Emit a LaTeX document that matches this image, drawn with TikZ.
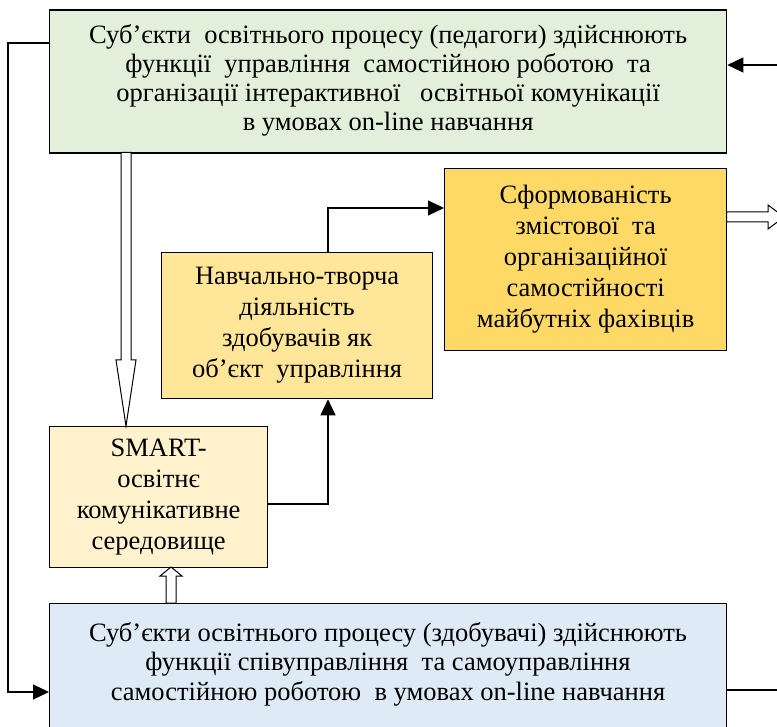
\documentclass[tikz,border=0pt]{standalone}
\usepackage{fontspec}
\setmainfont{Liberation Serif}
\usetikzlibrary{arrows.meta,calc}
\definecolor{gfill}{HTML}{E2EFDA}
\definecolor{bfill}{HTML}{DEEAF6}
\definecolor{sfill}{HTML}{FFF2CC}
\definecolor{nfill}{HTML}{FFE699}
\definecolor{ofill}{HTML}{FFD966}
\begin{document}
\begin{tikzpicture}[x=1pt,y=-1pt,
  box/.style={draw=black,line width=1.3pt,anchor=north west,inner sep=0pt,align=center,
    font=\fontsize{26.5}{31}\selectfont},
  widebox/.style={box,font=\fontsize{26.5}{29}\selectfont},
  conn/.style={line width=1.1pt,-{Triangle[length=16pt,width=15pt]}},
  hollow/.style={draw=black,fill=white,line width=1pt,line join=miter}]
\clip (0,0) rectangle (777,727);
\useasboundingbox (0,0) rectangle (777,727);
\node[widebox,fill=gfill,minimum width=677pt,minimum height=143pt,text depth=9pt] (top) at (49,9.5)
  {Суб’єкти\ \ освітнього процесу (педагоги) здійснюють\\
   функції\ \ управління\ \ самостійною роботою\ \ та\\
   організації інтерактивної\ \ \ освітньої комунікації\\
   в умовах on-line навчання};
\node[box,fill=ofill,minimum width=282pt,minimum height=182pt] (res) at (444,168)
  {Сформованість\\ змістової\ \ та\\ організаційної\\ самостійності\\ майбутніх фахівців};
\node[box,fill=nfill,minimum width=271pt,minimum height=146pt] (act) at (161,252)
  {Навчально-творча\\ діяльність\\ здобувачів як\\ об’єкт\ \ управління};
\node[box,fill=sfill,minimum width=218pt,minimum height=141pt] (env) at (49,426)
  {SMART-\\ освітнє\\ комунікативне\\ середовище};
\node[box,fill=bfill,minimum width=677pt,minimum height=150pt] (bot) at (49,603)
  {};
\node[font=\fontsize{26.5}{29.5}\selectfont,align=center,anchor=north,inner sep=0pt] (bottext) at (388,622)
  {Суб’єкти освітнього процесу (здобувачі) здійснюють\\
   функції співуправління\ \ та самоуправління\\
   самостійною роботою\ \ в умовах on-line навчання};
% right input into top box
\coordinate (rin) at (777,65);
\draw[conn] (rin) -- (top.east |- rin);
% left feedback loop
\coordinate (l1) at (8,43);
\coordinate (l2) at (8,692);
\draw[conn] (top.west |- l1) -- (l1) -- (l2) -- (bot.west |- l2);
% bottom right line
\coordinate (rout) at (777,690);
\draw[line width=1.1pt] (bot.east |- rout) -- (rout);
% env -> act
\coordinate (e1) at (328,504);
\draw[conn] (env.east |- e1) -- (e1) -- (e1 |- act.south);
% act -> res
\coordinate (a1) at (328,208);
\draw[conn] (a1 |- act.north) -- (a1) -- (res.west |- a1);
% hollow arrow top -> env
\path[hollow] (121,152.5) -- (131,152.5) -- (131,360) -- (136,360) -- (126,426) -- (116,360) -- (121,360) -- cycle;
% hollow arrow bot -> env
\path[hollow] (166,603) -- (176,603) -- (176,576) -- (182,576) -- (171,567) -- (160,576) -- (166,576) -- cycle;
% hollow arrow res -> right
\path[hollow] (726.5,212) -- (768,212) -- (768,205) -- (784,217) -- (768,229) -- (768,222) -- (726.5,222) -- cycle;
\end{tikzpicture}
\end{document}
